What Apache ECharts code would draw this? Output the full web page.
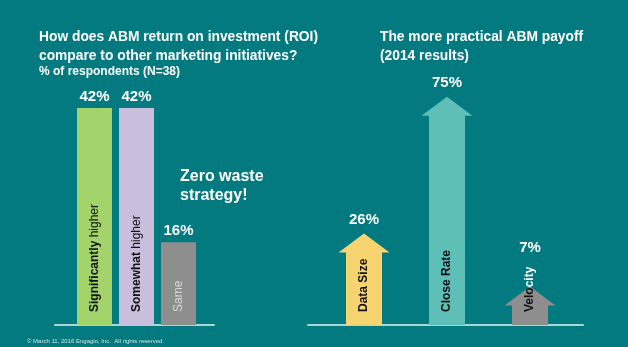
<!DOCTYPE html>
<html><head><meta charset="utf-8">
<script src="https://cdn.jsdelivr.net/npm/echarts@6/dist/echarts.min.js"></script>
<style>html,body{margin:0;padding:0;background:#037A80;}#c{width:628px;height:347px;}</style>
</head><body><div id="c"></div>
<script>
const roiCategories = ['Significantly higher', 'Somewhat higher', 'Same'];
const roiValues = [42, 42, 16];
const roiColors = ['#A3D46B', '#C9BFDD', '#8E8E8E'];
const payoffCategories = ['Data Size', 'Close Rate', 'Velocity'];
const payoffValues = [26, 75, 7];
const payoffColors = ['#F7D470', '#5DBFB6', '#8E8E8E'];

const FONT = "'Liberation Sans', Arial, sans-serif";
const BG = '#037A80';
const AXIS = '#A9D7D8';

const mctx = document.createElement('canvas').getContext('2d');
function tw(t, size) { mctx.font = 'bold ' + size + 'px ' + FONT; return mctx.measureText(t).width; }

function renderArrow(params, api) {
  const i = api.value(0), v = api.value(1);
  const base = api.coord([i, 0]);
  const top = api.coord([i, v]);
  const cx = base[0], sw = 36, hw = 51, hh = 19;
  const tip = top[1] - hh;
  const pts = [[cx - sw / 2, base[1]], [cx - sw / 2, top[1]], [cx - hw / 2, top[1]], [cx, tip],
               [cx + hw / 2, top[1]], [cx + sw / 2, top[1]], [cx + sw / 2, base[1]]];
  const name = payoffCategories[i];
  const fs = 12;
  const textBottom = base[1] - 13;
  const w = tw(name, fs);
  const textTop = textBottom - w;
  let dark = '', light = '';
  for (let k = 0; k < name.length; k++) {
    const a = tw(name.slice(0, k), fs), b = tw(name.slice(0, k + 1), fs);
    const cy = textBottom - (a + b) / 2;
    if (cy > tip && light === '') dark += name[k]; else light += name[k];
  }
  const children = [
    { type: 'polygon', shape: { points: pts }, style: { fill: payoffColors[i] } },
    { type: 'text', x: cx, y: textBottom, rotation: Math.PI / 2,
      style: { text: dark, fill: '#111', fontSize: fs, fontWeight: 'bold', fontFamily: FONT,
        align: 'left', verticalAlign: 'middle' } }
  ];
  if (light) {
    children.push({ type: 'text', x: cx, y: textBottom - tw(dark, fs), rotation: Math.PI / 2,
      style: { text: light, fill: '#fff', fontSize: fs, fontWeight: 'bold', fontFamily: FONT,
        align: 'left', verticalAlign: 'middle' } });
  }
  const labelBottom = Math.min(tip - 6, textTop - 11);
  children.push({ type: 'text', x: cx, y: labelBottom,
    style: { text: v + '%', fill: '#fff', fontSize: 15, fontWeight: 'bold', fontFamily: FONT,
      align: 'center', verticalAlign: 'bottom' } });
  return { type: 'group', children: children };
}

const hiddenAxis = { axisLine: { show: false }, axisTick: { show: false }, axisLabel: { show: false }, splitLine: { show: false } };
const lineAxis = { axisLine: { show: true, onZero: false, lineStyle: { color: AXIS, width: 2 } }, axisTick: { show: false }, axisLabel: { show: false }, splitLine: { show: false } };

const chart = echarts.init(document.getElementById('c'));
chart.setOption({
  backgroundColor: BG,
  animation: false,
  title: [
    { text: 'How does ABM return on investment (ROI)\ncompare to other marketing initiatives?', left: 39, top: 28, padding: 0,
      textStyle: { color: '#fff', fontSize: 13.8, fontWeight: 'bold', lineHeight: 19, fontFamily: FONT } },
    { text: '% of respondents (N=38)', left: 39, top: 65, padding: 0,
      textStyle: { color: '#fff', fontSize: 12, fontWeight: 'bold', lineHeight: 14, fontFamily: FONT } },
    { text: 'The more practical ABM payoff\n(2014 results)', left: 380, top: 28, padding: 0,
      textStyle: { color: '#fff', fontSize: 13.8, fontWeight: 'bold', lineHeight: 19, fontFamily: FONT } },
    { text: 'Zero waste\nstrategy!', left: 180, top: 167, padding: 0,
      textStyle: { color: '#fff', fontSize: 16, fontWeight: 'bold', lineHeight: 19, fontFamily: FONT } },
    { text: '\u00A9 March 11, 2016 Engagio, Inc.  All rights reserved.', left: 27, top: 338, padding: 0,
      textStyle: { color: '#CFE6E6', fontSize: 6, fontWeight: 'normal', lineHeight: 7, fontFamily: FONT } }
  ],
  grid: [
    { left: 73.5, right: 428.5, top: 15, bottom: 22 },
    { left: 55, right: 414, top: 15, bottom: 22 },
    { left: 322.5, right: 56.5, top: 46, bottom: 22 },
    { left: 308, right: 45, top: 46, bottom: 22 }
  ],
  xAxis: [
    Object.assign({ gridIndex: 0, type: 'category', data: roiCategories }, hiddenAxis),
    Object.assign({ gridIndex: 1, type: 'category', data: [''] }, lineAxis),
    Object.assign({ gridIndex: 2, type: 'category', data: payoffCategories }, hiddenAxis),
    Object.assign({ gridIndex: 3, type: 'category', data: [''] }, lineAxis)
  ],
  yAxis: [
    Object.assign({ gridIndex: 0, type: 'value', min: 0, max: 60 }, hiddenAxis),
    Object.assign({ gridIndex: 1, type: 'value', min: 0, max: 60 }, hiddenAxis),
    Object.assign({ gridIndex: 2, type: 'value', min: 0, max: 100 }, hiddenAxis),
    Object.assign({ gridIndex: 3, type: 'value', min: 0, max: 100 }, hiddenAxis)
  ],
  series: [
    { type: 'bar', xAxisIndex: 0, yAxisIndex: 0, barWidth: 35, barGap: '-100%', z: 1,
      data: roiValues.map((v, i) => ({ value: v, itemStyle: { color: roiColors[i] } })),
      label: { show: true, position: 'top', distance: 4, formatter: '{c}%', color: '#fff',
        fontSize: 15, fontWeight: 'bold', fontFamily: FONT } },
    { type: 'bar', xAxisIndex: 0, yAxisIndex: 0, barWidth: 35, barGap: '-100%', z: 2,
      data: roiValues, itemStyle: { color: 'rgba(0,0,0,0)' },
      label: { show: true, position: 'insideBottom', distance: 13, rotate: 90, align: 'left', verticalAlign: 'middle',
        formatter: p => {
          const m = p.name.match(/^(.*) (higher)$/);
          return m ? '{b|' + m[1] + '} {n|' + m[2] + '}' : '{s|' + p.name + '}';
        },
        rich: {
          b: { color: '#111', fontSize: 12, fontWeight: 'bold', fontFamily: FONT },
          n: { color: '#111', fontSize: 12, fontWeight: 'normal', fontFamily: FONT },
          s: { color: '#DADADA', fontSize: 12, fontWeight: 'normal', fontFamily: FONT }
        } } },
    { type: 'custom', xAxisIndex: 2, yAxisIndex: 2, renderItem: renderArrow,
      data: payoffValues.map((v, i) => [i, v]) }
  ]
});
</script></body></html>
